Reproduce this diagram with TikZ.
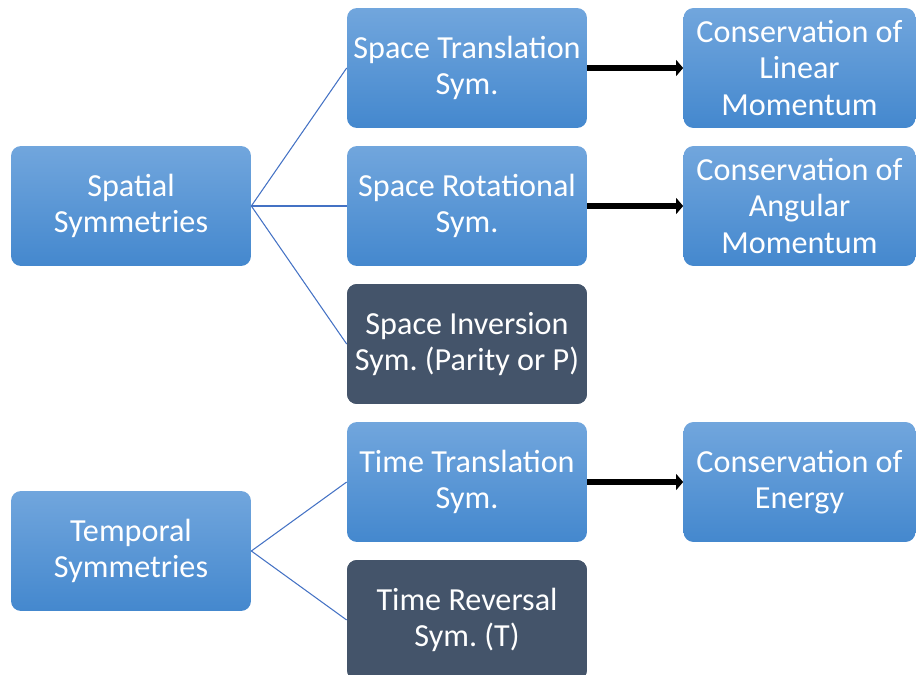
\documentclass[tikz,border=0pt]{standalone}
\usepackage{fontspec}
\setmainfont{Carlito}
\usepackage{tikz}
\usetikzlibrary{arrows.meta,positioning}
\usepackage{xcolor}
\definecolor{symtop}{RGB}{113,166,221}
\definecolor{symbottom}{RGB}{68,136,206}
\definecolor{symdark}{RGB}{68,84,106}
\definecolor{symline}{RGB}{68,114,196}
\frenchspacing
\tikzstyle{link} = [line width=0.6pt,color=symline]
\tikzstyle{implies} = [line width=3.8pt,-{Triangle[length=4pt,width=9pt]},black]
\tikzstyle{symbox} = [rectangle, rounded corners=0.2cm, minimum width=4.8cm, minimum height=2.4cm, align=center, text=white, font=\fontsize{18.3}{20.5}\selectfont, top color=symtop, bottom color=symbottom, inner sep=0pt]
\tikzstyle{darkbox} = [symbox, fill=symdark, top color=symdark, bottom color=symdark]
\tikzstyle{lawbox} = [symbox, minimum width=4.64cm]

\begin{document}
\begin{tikzpicture}[x=0.02cm,y=-0.02cm]
\useasboundingbox (0,0) rectangle (916,675);
% Groups
\node[symbox] (spatial) at (131,206) {Spatial\\Symmetries};
\node[symbox] (temporal) at (131,551) {Temporal\\Symmetries};

% Symmetries
\node[symbox] (strans) at (467,68) {Space Translation\\Sym.};
\node[symbox] (srot) at (467,206) {Space Rotational\\Sym.};
\node[darkbox] (sinv) at (467,344) {Space Inversion\\Sym. (Parity or P)};
\node[symbox] (ttrans) at (467,482) {Time Translation\\Sym.};
\node[darkbox] (trev) at (467,620) {Time Reversal\\Sym. (T)};

% Conservation laws
\node[lawbox] (linmom) at (799.5,68) {Conservation of\\Linear\\Momentum};
\node[lawbox] (angmom) at (799.5,206) {Conservation of\\Angular\\Momentum};
\node[lawbox] (energy) at (799.5,482) {Conservation of\\Energy};

% Connections
\draw[link] (spatial.east) -- (strans.west);
\draw[link] (spatial.east) -- (srot.west);
\draw[link] (spatial.east) -- (sinv.west);
\draw[link] (temporal.east) -- (ttrans.west);
\draw[link] (temporal.east) -- (trev.west);

% Noether arrows
\draw[implies] (strans) -- (linmom);
\draw[implies] (srot) -- (angmom);
\draw[implies] (ttrans) -- (energy);
\end{tikzpicture}
\end{document}
